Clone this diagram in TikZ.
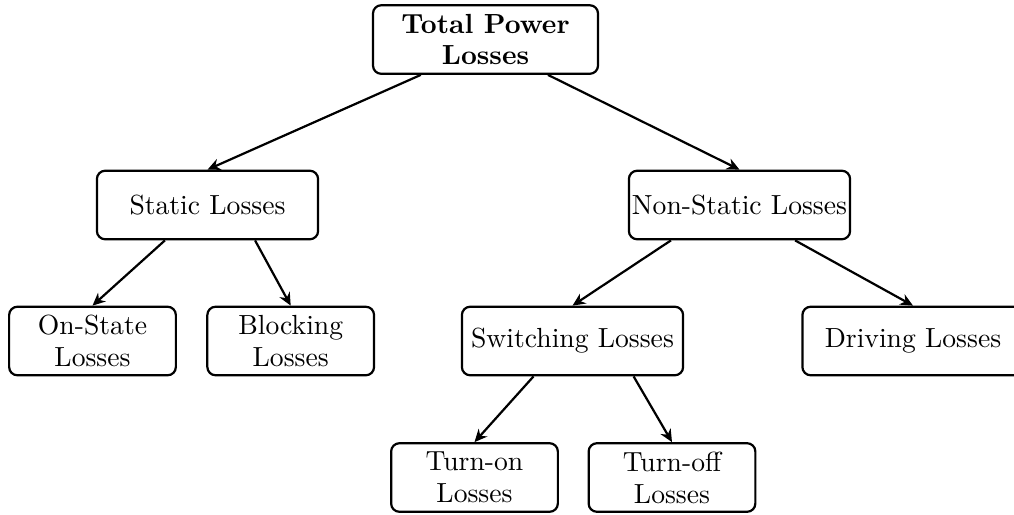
\documentclass[tikz,border=0pt]{standalone}
\usetikzlibrary{arrows.meta}
\begin{document}
\begin{tikzpicture}[x=0.3617pt,y=-0.3617pt,
  box/.style={draw,thick,rounded corners=3pt,inner sep=0pt,align=center,minimum height=24.8pt},
  wide/.style={box,minimum width=80pt},
  narrow/.style={box,minimum width=60.3pt},
  conn/.style={thick,-{Stealth[length=4.6pt,width=4.2pt]}}]
\useasboundingbox (0,0) rectangle (1014,514);
\node[box,minimum width=81.4pt,font=\bfseries] (total) at (485.5,39.5) {Total Power\\[-0.5pt]Losses};
\node[wide] (static) at (207.5,205) {Static Losses};
\node[wide] (nonstatic) at (739.5,205) {Non-Static Losses};
\node[narrow] (onstate) at (92.5,341) {On-State\\[-0.5pt]Losses};
\node[narrow] (blocking) at (290.7,341) {Blocking\\[-0.5pt]Losses};
\node[wide] (switching) at (572.5,341) {Switching Losses};
\node[wide] (driving) at (913,341) {Driving Losses};
\node[narrow] (turnon) at (474.5,477.5) {Turn-on\\[-0.5pt]Losses};
\node[narrow] (turnoff) at (672,477.5) {Turn-off\\[-0.5pt]Losses};
\draw[conn] ([xshift=-23.4pt]total.south) -- (static.north);
\draw[conn] ([xshift=22.6pt]total.south) -- (nonstatic.north);
\draw[conn] ([xshift=-15.4pt]static.south) -- (onstate.north);
\draw[conn] ([xshift=17.2pt]static.south) -- (blocking.north);
\draw[conn] ([xshift=-24.8pt]nonstatic.south) -- (switching.north);
\draw[conn] ([xshift=20.1pt]nonstatic.south) -- (driving.north);
\draw[conn] ([xshift=-14.1pt]switching.south) -- (turnon.north);
\draw[conn] ([xshift=22.1pt]switching.south) -- (turnoff.north);
\end{tikzpicture}
\end{document}
